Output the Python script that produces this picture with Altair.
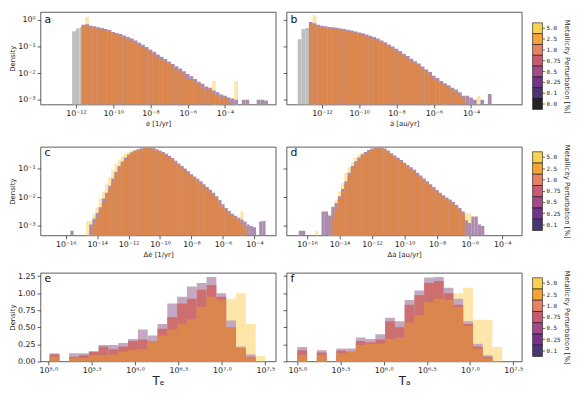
import altair as alt
import pandas as pd

FONT = "DejaVu Sans"
MONO = "DejaVu Sans Mono"

# ------------------------------------------------------------------ data
BW = 0.2      # bin width (decades) for panels a-d
BWT = 0.113   # bin width (decades) for panels e-f

# ---- panel a : e-dot, log10 density
a_gray_start = -12.2
a_gray = [-0.42, -0.32, -0.27]
a_yel_x = [-11.5, -4.7, -3.5]
a_yel = [0.12, -2.3, -2.3]
a_env_start = -11.7
a_env = [-0.18, -0.16, -0.22, -0.24, -0.27, -0.30, -0.34, -0.38, -0.45, -0.49,
         -0.53, -0.58, -0.64, -0.70, -0.77, -0.86, -0.93, -1.02, -1.12, -1.20,
         -1.30, -1.38, -1.47, -1.56, -1.66, -1.74, -1.83, -1.93, -2.03, -2.12,
         -2.22, -2.32, -2.40, -2.50, -2.55, -2.65, -2.72, -2.80, -2.85, -2.92,
         -2.95, -3.0, None, -3.0, -3.0, None, None, -3.0, -3.0, -3.03]
a_org_start = -11.7
a_org = [-0.24, -0.20, -0.28, -0.30, -0.33, -0.36, -0.40, -0.45, -0.52, -0.55,
         -0.60, -0.66, -0.72, -0.78, -0.86, -0.95, -1.02, -1.10, -1.22, -1.30,
         -1.40, -1.48, -1.58, -1.66, -1.80, -1.85, -1.93, -2.05, -2.25, -2.22,
         -2.35, -2.42, -2.58, -2.62, -2.62, -2.78, -2.82, -2.95, -2.92, -3.05]

# ---- panel b : a-dot
b_gray_start = -13.3
b_gray = [-0.73, -0.34, -0.30]
b_yel_x = [-12.5, -5.5, -3.7]
b_yel = [0.18, -2.5, -2.85]
b_env_start = -12.7
b_env = [-0.08, -0.12, -0.18, -0.22, -0.24, -0.26, -0.27, -0.29, -0.32, -0.34,
         -0.37, -0.40, -0.43, -0.47, -0.50, -0.55, -0.59, -0.64, -0.70, -0.77,
         -0.84, -0.92, -1.00, -1.08, -1.17, -1.27, -1.36, -1.46, -1.55, -1.64,
         -1.75, -1.86, -1.96, -2.10, -2.18, -2.30, -2.38, -2.46, -2.55, -2.62,
         -2.72, -2.85, -2.85, -2.92, -3.0, None, -3.0, None, -2.78]
b_org_start = -12.7
b_org = [-0.12, -0.18, -0.24, -0.28, -0.30, -0.32, -0.33, -0.35, -0.38, -0.40,
         -0.44, -0.46, -0.50, -0.54, -0.57, -0.62, -0.66, -0.72, -0.78, -0.84,
         -0.92, -1.00, -1.08, -1.17, -1.25, -1.36, -1.45, -1.55, -1.64, -1.72,
         -1.84, -1.95, -2.05, -2.20, -2.28, -2.40, -2.48, -2.55, -2.65, -2.70,
         -2.85, -2.95]

# ---- panel c : delta e-dot
c_yel_start = -14.7
c_yel = [-2.83, -2.83, -2.6, -2.35, -2.05, -1.8, -1.55, -1.3, -1.05, -0.85,
         -0.7, -0.58, -0.48, -0.42, -0.38, -0.36]
c_yel_x = [-4.9]
c_yel2 = [-2.5]
c_env_x = [-15.7]
c_env2 = [-3.17]
c_env_start = -14.5
c_env = [-2.95, -2.75, -2.55, -2.35, -2.05, -1.85, -1.6, -1.35, -1.12, -0.92,
         -0.76, -0.62, -0.52, -0.44, -0.38, -0.33, -0.30, -0.27, -0.26, -0.27,
         -0.29, -0.33, -0.38, -0.43, -0.49, -0.56, -0.64, -0.73, -0.83, -0.92,
         -1.0, -1.1, -1.2, -1.28, -1.36, -1.45, -1.55, -1.65, -1.74, -1.85,
         -1.97, -2.1, -2.25, -2.38, -2.48, -2.58, -2.65, -2.72, -2.78, -2.85,
         -2.95, -3.0, -3.05, None, -2.85, -2.83]
c_org_start = -14.3
c_org = [-2.95, -2.70, -2.45, -2.20, -1.95, -1.70, -1.45, -1.20, -0.98, -0.82,
         -0.68, -0.56, -0.48, -0.42, -0.37, -0.33, -0.30, -0.29, -0.31, -0.33,
         -0.38, -0.43, -0.48, -0.55, -0.62, -0.70, -0.80, -0.90, -0.98, -1.07,
         -1.17, -1.27, -1.35, -1.43, -1.52, -1.63, -1.72, -1.82, -1.93, -2.05,
         -2.20, -2.35, -2.45, -2.55, -2.65, -2.72, -2.80, -2.90, -3.05]

# ---- panel d : delta a-dot
d_yel_start = -14.7
d_yel = [-2.6, -2.4, -2.1, -1.8, -1.5, -1.15, -0.95, -0.78, -0.62, -0.52,
         -0.46, -0.42, -0.40, -0.38]
d_yel_x = [-15.5, -6.3, -6.1]
d_yel2 = [-3.17, -2.56, -2.56]
d_env_start = -16.5
d_env = [-3.17, -3.17, None, None, None, None, None, -2.5, -2.5, -2.65,
         -2.33, -2.2,
         -1.97, -1.72, -1.45, -1.15, -0.92, -0.75, -0.62, -0.51, -0.43, -0.36,
         -0.31, -0.28, -0.27, -0.27, -0.31, -0.38, -0.47, -0.55, -0.63, -0.71,
         -0.80, -0.88, -0.96, -1.05, -1.15, -1.25, -1.35, -1.45, -1.55, -1.65,
         -1.75, -1.85, -1.93, -2.01, -2.08, -2.17, -2.27, -2.38, -2.50,
         -2.8, -2.9, -2.67, -2.67, -2.95, -3.0]
d_org_start = -14.5
d_org = [-2.72, -2.40, -2.05, -1.80, -1.55, -1.25, -1.00, -0.82, -0.68, -0.57,
         -0.48, -0.41, -0.36, -0.32, -0.30, -0.31, -0.36, -0.44, -0.52, -0.60,
         -0.68, -0.76, -0.85, -0.93, -1.02, -1.12, -1.22, -1.32, -1.42, -1.52,
         -1.62, -1.72, -1.82, -1.92, -2.00, -2.08, -2.15, -2.25, -2.35, -2.45,
         -2.60]

# ---- panel e : T_e (linear density)
e_start = 5.015
e_yel = [0, 0, 0, 0, 0, 0.05, 0.05, 0.07, 0.10, 0.12, 0.20, 0.25, 0.35, 0.50,
         0.60, 0.80, 0.95, 0.90, 0.92, 1.00, 0.55, 0.08]
e_env = [0.12, None, 0.12, 0.12, 0.15, 0.24, 0.24, 0.27, 0.33, 0.47, 0.38,
         0.55, 0.85, 0.95, 1.10, 1.15, 1.24, 1.00, 0.60, 0.22, 0.10, None]
e_red = [0.10, None, 0.07, 0.09, 0.14, 0.22, 0.18, 0.22, 0.30, 0.32, 0.30,
         0.48, 0.65, 0.85, 0.92, 1.05, 1.12, 0.95, 0.45, 0.15, 0.07, None]
e_org = [0.07, None, 0.05, 0.05, 0.09, 0.09, 0.10, 0.14, 0.17, 0.18, 0.30,
         0.38, 0.47, 0.55, 0.62, 0.80, 0.95, 0.90, 0.50, 0.20, 0.06, None]

# ---- panel f : T_a
f_start = 5.0
f_yel = [0.05, 0, 0.05, 0, 0.08, 0.10, 0.15, 0.20, 0.25, 0.30, 0.35, 0.50,
         0.60, 0.75, 0.90, 1.00, 1.00, 1.08, 0.61, 0.61, 0.21]
f_env = [0.21, None, 0.165, None, 0.19, 0.19, 0.35, 0.33, 0.40, 0.64, 0.59,
         0.90, 1.04, 1.23, 1.24, 1.08, 0.92, 0.59, 0.26, 0.09, None]
f_red = [0.165, None, 0.13, None, 0.16, 0.14, 0.30, 0.28, 0.32, 0.59, 0.50,
         0.83, 0.97, 1.15, 1.18, 1.00, 0.83, 0.55, 0.22, 0.07, None]
f_org = [0.094, None, 0.094, None, 0.12, 0.14, 0.24, 0.26, 0.26, 0.33, 0.35,
         0.57, 0.68, 0.87, 0.92, 0.90, 0.80, 0.52, 0.19, 0.05, None]

# ---- ticks / labels
ab_xticks = [-12, -10, -8, -6, -4]
ab_xlabels = ["10⁻¹²", "10⁻¹⁰", "10⁻⁸", "10⁻⁶", "10⁻⁴"]
cd_xticks = [-16, -14, -12, -10, -8, -6, -4]
cd_xlabels = ["10⁻¹⁶", "10⁻¹⁴", "10⁻¹²", "10⁻¹⁰", "10⁻⁸", "10⁻⁶", "10⁻⁴"]
ef_xticks = [5.0, 5.5, 6.0, 6.5, 7.0, 7.5]
ef_xlabels = ["10⁵·⁰", "10⁵·⁵", "10⁶·⁰", "10⁶·⁵", "10⁷·⁰", "10⁷·⁵"]
r1_yticks = [-3, -2, -1, 0]
r1_ylabels = ["10⁻³", "10⁻²", "10⁻¹", "10⁰"]
r2_yticks = [-3, -2, -1]
r2_ylabels = ["10⁻³", "10⁻²", "10⁻¹"]
r3_yticks = [0, 0.25, 0.5, 0.75, 1.0, 1.25]
r3_ylabels = ["0.00", "0.25", "0.50", "0.75", "1.00", "1.25"]

cb_cats = ["5.0", "2.5", "1.0", "0.75", "0.5", "0.25", "0.1", "0.0"]
cb_cols = ["#f8d34f", "#f6a235", "#ea8163", "#cc5872", "#a34a88", "#74338b",
           "#4a3670", "#242424"]

# ------------------------------------------------------------------ styles
GRAY = "#bfbfbf"
YEL = "#fde6a8"
ENV_AD = "#ab8caf"
ENV_EF = "#c4a8c2"
RED = "#cc6f6e"
ORG = "#db864c"
W = 239


def run(start, vals, w):
    return [(start + i * w, start + (i + 1) * w, v)
            for i, v in enumerate(vals) if v is not None]


def spikes(xs, vals, w):
    return [(x, x + w, v) for x, v in zip(xs, vals)]


def lab_expr(vals, labs):
    parts = [f"abs(datum.value - ({v})) < 1e-6 ? '{l}'" for v, l in zip(vals, labs)]
    return " : ".join(parts) + " : ''"


def panel(layers, xdom, ydom, xt, xl, yt, yl, xtitle, xtsize, show_y,
          letter, letter_y, height):
    xax = alt.Axis(values=xt, labelExpr=lab_expr(xt, xl), title=xtitle,
                   titleFontSize=xtsize, titlePadding=2 if xtsize < 10 else 1)
    if show_y:
        yax = alt.Axis(values=yt, labelExpr=lab_expr(yt, yl), title="Density",
                       minExtent=23, maxExtent=23)
    else:
        yax = alt.Axis(values=yt, labels=False, title=None,
                       minExtent=4, maxExtent=4)
    xs = alt.Scale(domain=xdom, nice=False, zero=False)
    ys = alt.Scale(domain=ydom, nice=False, zero=False)
    charts = []
    for rows, color in layers:
        df = pd.DataFrame(rows, columns=["x0", "x1", "y"])
        charts.append(
            alt.Chart(df).mark_rect(color=color, clip=True).encode(
                x=alt.X("x0:Q", scale=xs, axis=xax),
                x2="x1:Q",
                y=alt.Y("y:Q", scale=ys, axis=yax),
                y2=alt.datum(ydom[0]),
            )
        )
    txt = alt.Chart(pd.DataFrame({"t": [letter]})).mark_text(
        align="left", baseline="alphabetic", fontSize=11, font=FONT,
        color="#111").encode(x=alt.value(4), y=alt.value(letter_y), text="t:N")
    return alt.layer(*charts, txt).properties(width=W, height=height)


def colorbar(cats, cols, offset, barh, height):
    df = pd.DataFrame({"cat": cats, "col": cols})
    return alt.Chart(df).mark_rect(stroke="#111", strokeWidth=0.6).encode(
        x=alt.value(0), x2=alt.value(10),
        y=alt.Y("cat:O", sort=cats,
                scale=alt.Scale(domain=cats, range=[offset, offset + barh],
                                paddingInner=0, paddingOuter=0),
                axis=alt.Axis(orient="right", title="Metallicity Perturbation [%]",
                              domain=False, tickSize=2, labelFont=MONO,
                              labelFontSize=6, titleFontSize=7, titlePadding=3,
                              labelPadding=1.5)),
        color=alt.Color("col:N", scale=None),
    ).properties(width=10, height=height,
                 view=alt.ViewBackground(stroke="transparent"))


H1, H2, H3 = 94, 90, 90
r1_ydom = [-3.18, 0.3]
r2_ydom = [-3.33, -0.25]
r3_ydom = [0, 1.3]

pa = panel([(run(a_gray_start, a_gray, BW), GRAY),
            (spikes(a_yel_x, a_yel, BW), YEL),
            (run(a_env_start, a_env, BW), ENV_AD),
            (run(a_org_start, a_org, BW), ORG)],
           [-13.9, -1.28], r1_ydom, ab_xticks, ab_xlabels, r1_yticks, r1_ylabels,
           "ė [1/yr]", 7, True, "a", 11, H1)
pb = panel([(run(b_gray_start, b_gray, BW), GRAY),
            (spikes(b_yel_x, b_yel, BW), YEL),
            (run(b_env_start, b_env, BW), ENV_AD),
            (run(b_org_start, b_org, BW), ORG)],
           [-13.9, -1.28], r1_ydom, ab_xticks, ab_xlabels, r1_yticks, r1_ylabels,
           "ȧ [au/yr]", 7, False, "b", 11, H1)
pc = panel([(run(c_yel_start, c_yel, BW) + spikes(c_yel_x, c_yel2, BW), YEL),
            (run(c_env_start, c_env, BW) + spikes(c_env_x, c_env2, BW), ENV_AD),
            (run(c_org_start, c_org, BW), ORG)],
           [-17.6, -2.65], r2_ydom, cd_xticks, cd_xlabels, r2_yticks, r2_ylabels,
           "Δė [1/yr]", 7, True, "c", 9, H2)
pd_ = panel([(run(d_yel_start, d_yel, BW) + spikes(d_yel_x, d_yel2, BW), YEL),
             (run(d_env_start, d_env, BW), ENV_AD),
             (run(d_org_start, d_org, BW), ORG)],
            [-17.25, -2.8], r2_ydom, cd_xticks, cd_xlabels, r2_yticks, r2_ylabels,
            "Δȧ [au/yr]", 7, False, "d", 9, H2)
pe = panel([(run(e_start, e_yel, BWT), YEL),
            (run(e_start, e_env, BWT), ENV_EF),
            (run(e_start, e_red, BWT), RED),
            (run(e_start, e_org, BWT), ORG)],
           [4.91, 7.62], r3_ydom, ef_xticks, ef_xlabels, r3_yticks, r3_ylabels,
           "Tₑ", 12, True, "e", 9, H3)
pf = panel([(run(f_start, f_yel, BWT), YEL),
            (run(f_start, f_env, BWT), ENV_EF),
            (run(f_start, f_red, BWT), RED),
            (run(f_start, f_org, BWT), ORG)],
           [4.875, 7.6], r3_ydom, ef_xticks, ef_xlabels, r3_yticks, r3_ylabels,
           "Tₐ", 12, False, "f", 9, H3)

cb1 = colorbar(cb_cats, cb_cols, 11, 88, 99)
cb2 = colorbar(cb_cats[:-1], cb_cols[:-1], 5, 80, 85)
cb3 = colorbar(cb_cats[:-1], cb_cols[:-1], 5, 80, 85)

chart = alt.concat(pa, pb, cb1, pc, pd_, cb2, pe, pf, cb3, columns=3,
                   bounds="flush", spacing={"row": 38, "column": 11}).properties(
    padding=0, background="white"
).configure_view(
    stroke="#333333", strokeWidth=0.8
).configure_axis(
    labelFont=FONT, titleFont=FONT, labelFontSize=8, titleFontSize=7,
    labelColor="#222222", titleColor="#222222", tickColor="#333333",
    tickSize=3.5, tickWidth=0.8, domain=False, grid=False, labelPadding=2,
    titlePadding=2, titleFontWeight="normal", labelOverlap=False,
    labelFlush=False
).configure_text(font=FONT)

chart.save("out.html", embed_options={"renderer": "svg", "actions": False})
